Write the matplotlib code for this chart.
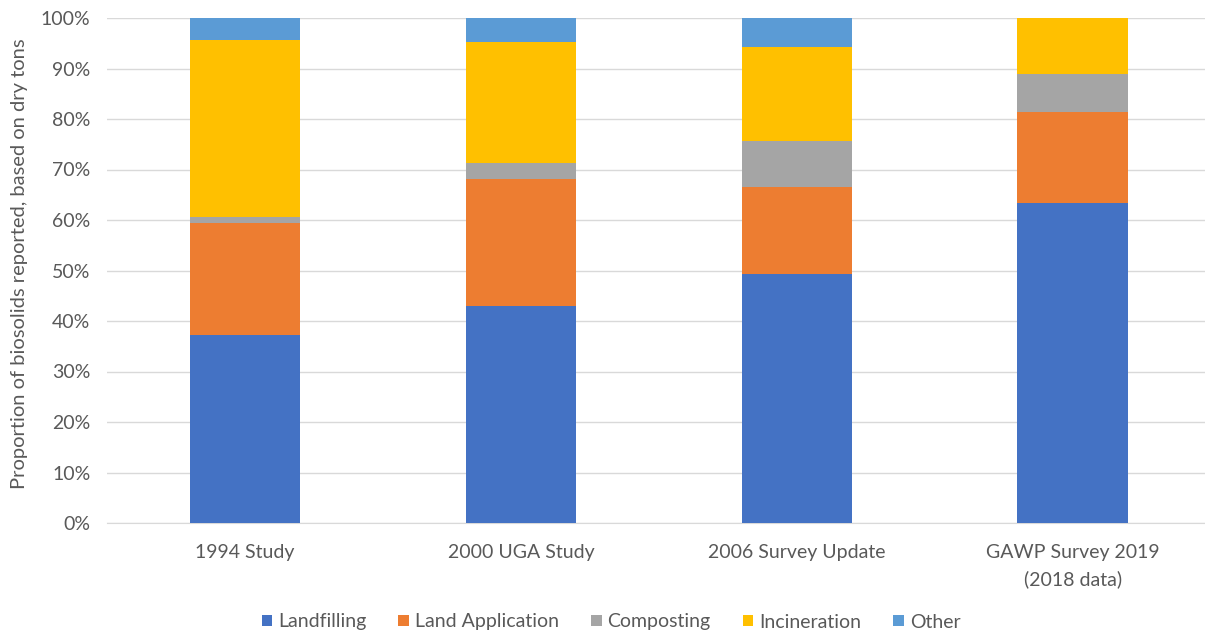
import matplotlib
matplotlib.use("Agg")
import matplotlib.pyplot as plt
import numpy as np
from matplotlib.ticker import PercentFormatter

categories = ["1994 Study", "2000 UGA Study", "2006 Survey Update", "GAWP Survey 2019\n(2018 data)"]
landfilling = [37.2, 43.0, 49.3, 63.3]
land_application = [22.2, 25.2, 17.3, 18.0]
composting = [1.1, 3.1, 9.0, 7.6]
incineration = [35.1, 23.9, 18.7, 11.1]
other = [4.4, 4.8, 5.7, 0.0]

series = [
    ("Landfilling", landfilling, "#4472C4"),
    ("Land Application", land_application, "#ED7D31"),
    ("Composting", composting, "#A5A5A5"),
    ("Incineration", incineration, "#FFC000"),
    ("Other", other, "#5B9BD5"),
]

plt.rcParams["font.family"] = ["Lato", "DejaVu Sans"]
text_color = "#595959"

fig = plt.figure(figsize=(12.05, 6.37), dpi=100)
ax = fig.add_axes([107 / 1205, 114 / 637, 1098 / 1205, 505 / 637])

x = np.arange(len(categories))
bottom = np.zeros(len(categories))
handles = []
for name, vals, color in series:
    vals = np.array(vals)
    h = ax.bar(x, vals, width=0.4, bottom=bottom, color=color, label=name, zorder=3)
    handles.append(h)
    bottom += vals

ax.set_ylim(0, 100)
ax.set_xlim(-0.5, 3.48)
ax.set_yticks(np.arange(0, 101, 10))
ax.yaxis.set_major_formatter(PercentFormatter(decimals=0))
ax.grid(axis="y", color="#D9D9D9", linewidth=1, zorder=0)
for s in ["top", "right", "left"]:
    ax.spines[s].set_visible(False)
ax.spines["bottom"].set_color("#D9D9D9")
ax.tick_params(axis="both", length=0, labelsize=14, colors=text_color)
ax.tick_params(axis="y", pad=12)
ax.tick_params(axis="x", pad=15)
ax.set_xticks(x)
ax.set_xticklabels(categories, linespacing=1.6)

fig.text(20 / 1205, 1 - 264 / 637, "Proportion of biosolids reported, based on dry tons",
         rotation=90, ha="center", va="center", fontsize=14.5, color=text_color)

leg = fig.legend(handles=handles, loc="center", bbox_to_anchor=(611 / 1205, 1 - 622 / 637),
                 ncol=5, frameon=False, fontsize=14, handlelength=0.55, handleheight=0.55,
                 handletextpad=0.3, columnspacing=1.65)
for t in leg.get_texts():
    t.set_color(text_color)

fig.savefig("out.png", dpi=100, facecolor="white")
